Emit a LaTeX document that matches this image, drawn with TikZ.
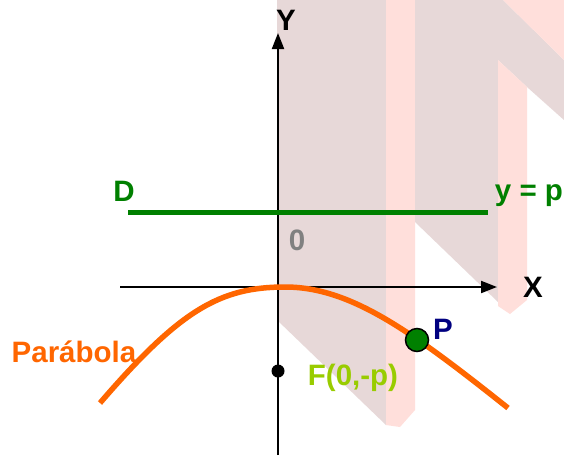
\documentclass[tikz,border=0pt]{standalone}
\usepackage{fontspec}
\setmainfont{Liberation Sans}
\usetikzlibrary{arrows.meta}
\definecolor{wmgray}{RGB}{231,216,216}
\definecolor{wmpink}{RGB}{255,223,219}
\definecolor{dgreen}{RGB}{0,128,0}
\definecolor{orng}{RGB}{255,102,0}
\definecolor{limeg}{RGB}{153,204,0}
\definecolor{navyb}{RGB}{0,0,128}
\definecolor{zerogray}{RGB}{128,128,128}
\begin{document}
\begin{tikzpicture}[x=1pt,y=-1pt,
  lbl/.style={font=\fontsize{29.5}{29.5}\selectfont\bfseries, inner sep=0pt},
  axis/.style={line width=2pt,-{Triangle[length=16pt,width=12pt]}}]
\useasboundingbox[fill=white] (0,0) rectangle (564,458);
% faint background watermark
\fill[wmgray] (277,0) -- (386,0) -- (386,425) -- (277,320) -- cycle;
\fill[wmpink] (386,0) -- (415,0) -- (415,410) -- (400,427) -- (386,425) -- cycle;
\fill[wmgray] (415,0) -- (503,0) -- (564,60) -- (564,120) -- (527,87) -- (498,60) -- (498,302) -- (415,222) -- cycle;
\fill[wmpink] (498,60) -- (527,87) -- (527,300) -- (510,314) -- (498,306) -- cycle;
\fill[wmpink] (503,0) -- (564,0) -- (564,60) -- cycle;
% axes
\coordinate (ybot) at (278,455);
\coordinate (ytop) at (278,33);
\coordinate (xl) at (120,287);
\coordinate (xr) at (497,287);
\draw[axis] (ybot) -- (ytop);
\draw[axis] (xl) -- (xr);
\node[lbl] (Y) at (286,20) {Y};
\node[lbl] (X) at (533,287) {X};
\node[lbl,zerogray] (zero) at (297,240) {0};
% directrix
\coordinate (dl) at (128,212);
\coordinate (dr) at (488,212);
\draw[dgreen, line width=5pt] (dl) -- (dr);
\node[lbl,dgreen] (D) at (124,191) {D};
\node[lbl,dgreen] (dir) at (529,196) {y = p};
% parabola
\coordinate (pa) at (100,403);
\coordinate (pv) at (285,287);
\coordinate (pb) at (508,408);
\draw[orng, line width=5.5pt] (pa) .. controls (180,310) and (220,287) .. (pv) .. controls (350,287) and (410,330) .. (pb);
\node[lbl,orng] (parab) at (74,352) {Parábola};
% focus
\node[circle, fill=black, minimum size=13pt, inner sep=0pt] (F) at (278,371) {};
\node[lbl,limeg] (Flbl) at (353,378) {F(0,-p)};
% point P
\node[circle, fill=dgreen, draw=black, line width=1.5pt, minimum size=23pt, inner sep=0pt] (P) at (417,340) {};
\node[lbl,navyb] (Plbl) at (443,329) {P};
\end{tikzpicture}
\end{document}
